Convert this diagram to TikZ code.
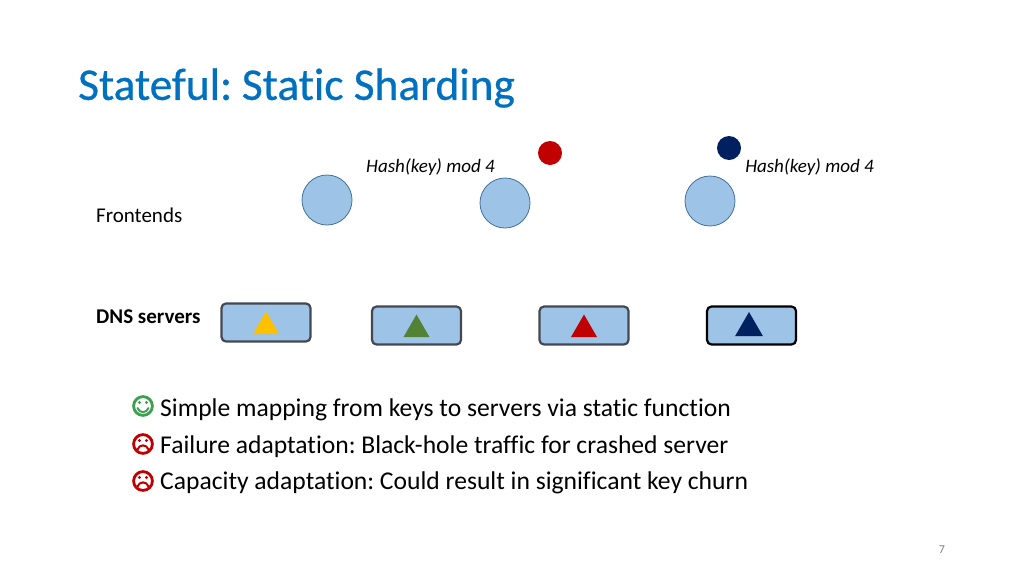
\documentclass[tikz,border=0pt]{standalone}
\usepackage{fontspec}
\setmainfont[Ligatures=NoCommon]{Carlito}
\newfontfamily\titlefont[Ligatures=NoCommon,FakeBold=0.6]{Carlito}
\definecolor{titleblue}{RGB}{0,112,192}
\definecolor{fillblue}{RGB}{157,195,230}
\definecolor{edgeblue}{RGB}{65,113,156}
\definecolor{boxedge}{RGB}{68,72,80}
\definecolor{keyred}{RGB}{192,0,0}
\definecolor{keynavy}{RGB}{0,32,96}
\definecolor{keyyellow}{RGB}{255,192,0}
\definecolor{keygreen}{RGB}{84,130,53}
\definecolor{smilegreen}{RGB}{60,160,80}
\usetikzlibrary{shapes.geometric}
\tikzset{
  frontend/.style={circle,draw=edgeblue,fill=fillblue,line width=0.8pt,minimum size=50pt,inner sep=0pt},
  server/.style={rectangle,rounded corners=4.5pt,draw=boxedge,fill=fillblue,line width=2.2pt,minimum width=89pt,minimum height=38pt,inner sep=0pt},
  key/.style={circle,minimum size=24pt,inner sep=0pt},
  tri/.style={regular polygon,regular polygon sides=3,minimum size=30pt,inner sep=0pt},
  hashlabel/.style={font=\fontsize{19}{21}\selectfont\itshape,inner sep=0pt},
  rowlabel/.style={font=\fontsize{21}{23}\selectfont,inner sep=0pt,anchor=west},
  bullet/.style={font=\fontsize{25.6}{28}\selectfont,inner sep=0pt,anchor=west},
}
\begin{document}
\begin{tikzpicture}[x=1pt,y=-1pt,line join=round,line cap=round]
\useasboundingbox (0,0) rectangle (1024,576);
\node[anchor=west,inner sep=0pt,text=titleblue,font=\titlefont\fontsize{45.4}{48}\selectfont] (title) at (78,88) {Stateful:\kern-4pt{} Static Sharding};
% frontends
\node[rowlabel] (frontends) at (96,215) {Frontends};
\foreach \x/\y/\n in {327/200/a,505/203/b,710/201/c}{\node[frontend] (fe\n) at (\x,\y) {};}
% keys
\node[key,fill=keyred] (keyr) at (550,153) {};
\node[key,fill=keynavy] (keyn) at (729,148) {};
\node[hashlabel] (hashl) at (430.5,167) {Hash(key) mod 4};
\node[hashlabel] (hashr) at (809.5,167) {Hash(key) mod 4};
% servers
\node[rowlabel,font=\fontsize{21}{23}\selectfont\bfseries] (dns) at (96,317) {DNS servers};
\foreach \x/\y/\n/\c in {266/322.5/a/keyyellow,416.5/325.5/b/keygreen,584/325.5/c/keyred}{
  \node[server] (srv\n) at (\x,\y) {};
  \node[tri,fill=\c] (tri\n) at (\x,\y+4) {};
}
\node[server,draw=black] (srvd) at (751.5,325.5) {};
\node[tri,fill=keynavy,minimum size=32pt] (trid) at (749,328) {};
% bullets
\node[bullet] (simple) at (160,409.5) {Simple mapping from keys to servers via static function};
\node[bullet] (failure) at (160,446.5) {Failure adaptation:\kern-2pt{} Black-hole traffic for crashed server};
\node[bullet] (capacity) at (160,483) {Capacity adaptation:\kern-2pt{} Could result in significant key churn};
% faces
\draw[smilegreen,line width=2.8pt] (143,406) circle (9.4);
\fill[smilegreen] (139.5,402.5) circle (1.6) (146.5,402.5) circle (1.6);
\draw[smilegreen,line width=2pt] (137.5,408) .. controls (139.5,413.5) and (146.5,413.5) .. (148.5,408);
\foreach \y in {444,481}{
  \draw[keyred,line width=2.8pt] (143,\y) circle (9.4);
  \fill[keyred] (139.5,\y-3.5) circle (1.6) (146.5,\y-3.5) circle (1.6);
  \draw[keyred,line width=2pt] (137.5,\y+5.5) .. controls (139.5,\y+0) and (146.5,\y+0) .. (148.5,\y+5.5);
}
\node[inner sep=0pt,text=gray,font=\fontsize{12}{14}\selectfont] (page) at (942,549.5) {7};
\end{tikzpicture}
\end{document}
